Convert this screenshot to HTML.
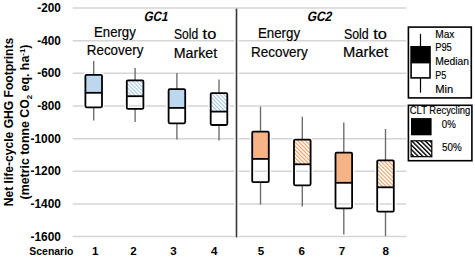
<!DOCTYPE html>
<html><head><meta charset="utf-8"><style>
html,body{margin:0;padding:0;background:#fff;width:475px;height:258px;overflow:hidden}
svg{display:block;font-family:"Liberation Sans", sans-serif}
</style></head><body>
<svg width="475" height="258" viewBox="0 0 475 258">
<defs>
<pattern id="hb" patternUnits="userSpaceOnUse" width="2.76" height="10" patternTransform="rotate(-45)"><rect width="2.76" height="10" fill="#fff"/><rect width="1.05" height="10" fill="#9CC3E8"/></pattern>
<pattern id="ho" patternUnits="userSpaceOnUse" width="2.76" height="10" patternTransform="rotate(-45)"><rect width="2.76" height="10" fill="#fff"/><rect width="1.1" height="10" fill="#F09C5E"/></pattern>
<pattern id="hk" patternUnits="userSpaceOnUse" width="3.18" height="10" patternTransform="rotate(-45)"><rect width="3.18" height="10" fill="#fff"/><rect width="1.4" height="10" fill="#000"/></pattern>
</defs>
<line x1="72.7" y1="8.00" x2="406.3" y2="8.00" stroke="#D5D5D5" stroke-width="1.5"/>
<line x1="72.7" y1="40.66" x2="406.3" y2="40.66" stroke="#D5D5D5" stroke-width="1.5"/>
<line x1="72.7" y1="73.32" x2="406.3" y2="73.32" stroke="#D5D5D5" stroke-width="1.5"/>
<line x1="72.7" y1="105.98" x2="406.3" y2="105.98" stroke="#D5D5D5" stroke-width="1.5"/>
<line x1="72.7" y1="138.64" x2="406.3" y2="138.64" stroke="#D5D5D5" stroke-width="1.5"/>
<line x1="72.7" y1="171.30" x2="406.3" y2="171.30" stroke="#D5D5D5" stroke-width="1.5"/>
<line x1="72.7" y1="203.96" x2="406.3" y2="203.96" stroke="#D5D5D5" stroke-width="1.5"/>
<line x1="72.7" y1="236.62" x2="406.3" y2="236.62" stroke="#D5D5D5" stroke-width="1.5"/>
<text x="60.9" y="11.90" font-size="12.2" font-weight="bold" font-style="normal" text-anchor="end" fill="#000" textLength="23.6" lengthAdjust="spacingAndGlyphs" >-200</text>
<text x="60.9" y="44.56" font-size="12.2" font-weight="bold" font-style="normal" text-anchor="end" fill="#000" textLength="23.6" lengthAdjust="spacingAndGlyphs" >-400</text>
<text x="60.9" y="77.22" font-size="12.2" font-weight="bold" font-style="normal" text-anchor="end" fill="#000" textLength="23.6" lengthAdjust="spacingAndGlyphs" >-600</text>
<text x="60.9" y="109.88" font-size="12.2" font-weight="bold" font-style="normal" text-anchor="end" fill="#000" textLength="23.6" lengthAdjust="spacingAndGlyphs" >-800</text>
<text x="60.9" y="142.54" font-size="12.2" font-weight="bold" font-style="normal" text-anchor="end" fill="#000" textLength="30.4" lengthAdjust="spacingAndGlyphs" >-1000</text>
<text x="60.9" y="175.20" font-size="12.2" font-weight="bold" font-style="normal" text-anchor="end" fill="#000" textLength="30.4" lengthAdjust="spacingAndGlyphs" >-1200</text>
<text x="60.9" y="207.86" font-size="12.2" font-weight="bold" font-style="normal" text-anchor="end" fill="#000" textLength="30.4" lengthAdjust="spacingAndGlyphs" >-1400</text>
<text x="60.9" y="240.52" font-size="12.2" font-weight="bold" font-style="normal" text-anchor="end" fill="#000" textLength="30.4" lengthAdjust="spacingAndGlyphs" >-1600</text>
<line x1="236.5" y1="9.3" x2="236.5" y2="236.6" stroke="#fff" stroke-width="4.5"/>
<line x1="236.5" y1="9.3" x2="236.5" y2="236.8" stroke="#383838" stroke-width="1.6" stroke-linecap="round"/>
<rect x="85.40" y="74.80" width="16.60" height="32.50" fill="none" stroke="#fff" stroke-width="4.4" rx="1.2"/>
<rect x="85.40" y="74.80" width="16.60" height="18.00" fill="#BDD7EE"/>
<line x1="93.7" y1="61" x2="93.7" y2="74.9" stroke="#6a6a6a" stroke-width="1.35"/>
<line x1="93.7" y1="107.2" x2="93.7" y2="120.6" stroke="#6a6a6a" stroke-width="1.35"/>
<rect x="85.40" y="74.80" width="16.60" height="32.50" fill="none" stroke="#000" stroke-width="1.8" rx="1.2"/>
<line x1="85.40" y1="92.8" x2="102.00" y2="92.8" stroke="#000" stroke-width="1.8"/>
<rect x="126.80" y="80.30" width="16.60" height="28.60" fill="none" stroke="#fff" stroke-width="4.4" rx="1.2"/>
<rect x="126.80" y="80.30" width="16.60" height="15.90" fill="url(#hb)"/>
<line x1="135.10000000000002" y1="68.1" x2="135.10000000000002" y2="80.4" stroke="#6a6a6a" stroke-width="1.35"/>
<line x1="135.10000000000002" y1="108.80000000000001" x2="135.10000000000002" y2="122" stroke="#6a6a6a" stroke-width="1.35"/>
<rect x="126.80" y="80.30" width="16.60" height="28.60" fill="none" stroke="#000" stroke-width="1.8" rx="1.2"/>
<line x1="126.80" y1="96.2" x2="143.40" y2="96.2" stroke="#000" stroke-width="1.8"/>
<rect x="168.60" y="89.20" width="16.60" height="34.10" fill="none" stroke="#fff" stroke-width="4.4" rx="1.2"/>
<rect x="168.60" y="89.20" width="16.60" height="18.70" fill="#BDD7EE"/>
<line x1="176.9" y1="73.1" x2="176.9" y2="89.3" stroke="#6a6a6a" stroke-width="1.35"/>
<line x1="176.9" y1="123.2" x2="176.9" y2="139.6" stroke="#6a6a6a" stroke-width="1.35"/>
<rect x="168.60" y="89.20" width="16.60" height="34.10" fill="none" stroke="#000" stroke-width="1.8" rx="1.2"/>
<line x1="168.60" y1="107.89999999999999" x2="185.20" y2="107.89999999999999" stroke="#000" stroke-width="1.8"/>
<rect x="210.70" y="93.20" width="16.60" height="31.80" fill="none" stroke="#fff" stroke-width="4.4" rx="1.2"/>
<rect x="210.70" y="93.20" width="16.60" height="18.40" fill="url(#hb)"/>
<line x1="219.0" y1="79.4" x2="219.0" y2="93.3" stroke="#6a6a6a" stroke-width="1.35"/>
<line x1="219.0" y1="124.9" x2="219.0" y2="140.4" stroke="#6a6a6a" stroke-width="1.35"/>
<rect x="210.70" y="93.20" width="16.60" height="31.80" fill="none" stroke="#000" stroke-width="1.8" rx="1.2"/>
<line x1="210.70" y1="111.6" x2="227.30" y2="111.6" stroke="#000" stroke-width="1.8"/>
<rect x="252.20" y="131.70" width="16.60" height="50.50" fill="none" stroke="#fff" stroke-width="4.4" rx="1.2"/>
<rect x="252.20" y="131.70" width="16.60" height="27.20" fill="#F5B386"/>
<line x1="260.5" y1="106.7" x2="260.5" y2="131.8" stroke="#6a6a6a" stroke-width="1.35"/>
<line x1="260.5" y1="182.1" x2="260.5" y2="204.5" stroke="#6a6a6a" stroke-width="1.35"/>
<rect x="252.20" y="131.70" width="16.60" height="50.50" fill="none" stroke="#000" stroke-width="1.8" rx="1.2"/>
<line x1="252.20" y1="158.9" x2="268.80" y2="158.9" stroke="#000" stroke-width="1.8"/>
<rect x="294.00" y="139.60" width="16.60" height="45.70" fill="none" stroke="#fff" stroke-width="4.4" rx="1.2"/>
<rect x="294.00" y="139.60" width="16.60" height="24.70" fill="url(#ho)"/>
<line x1="302.3" y1="116.8" x2="302.3" y2="139.7" stroke="#6a6a6a" stroke-width="1.35"/>
<line x1="302.3" y1="185.20000000000002" x2="302.3" y2="206.5" stroke="#6a6a6a" stroke-width="1.35"/>
<rect x="294.00" y="139.60" width="16.60" height="45.70" fill="none" stroke="#000" stroke-width="1.8" rx="1.2"/>
<line x1="294.00" y1="164.3" x2="310.60" y2="164.3" stroke="#000" stroke-width="1.8"/>
<rect x="335.50" y="152.60" width="16.60" height="55.70" fill="none" stroke="#fff" stroke-width="4.4" rx="1.2"/>
<rect x="335.50" y="152.60" width="16.60" height="30.20" fill="#F5B386"/>
<line x1="343.8" y1="122.6" x2="343.8" y2="152.7" stroke="#6a6a6a" stroke-width="1.35"/>
<line x1="343.8" y1="208.20000000000002" x2="343.8" y2="234.4" stroke="#6a6a6a" stroke-width="1.35"/>
<rect x="335.50" y="152.60" width="16.60" height="55.70" fill="none" stroke="#000" stroke-width="1.8" rx="1.2"/>
<line x1="335.50" y1="182.8" x2="352.10" y2="182.8" stroke="#000" stroke-width="1.8"/>
<rect x="377.20" y="160.30" width="16.60" height="51.30" fill="none" stroke="#fff" stroke-width="4.4" rx="1.2"/>
<rect x="377.20" y="160.30" width="16.60" height="27.00" fill="url(#ho)"/>
<line x1="385.5" y1="129" x2="385.5" y2="160.4" stroke="#6a6a6a" stroke-width="1.35"/>
<line x1="385.5" y1="211.5" x2="385.5" y2="236.1" stroke="#6a6a6a" stroke-width="1.35"/>
<rect x="377.20" y="160.30" width="16.60" height="51.30" fill="none" stroke="#000" stroke-width="1.8" rx="1.2"/>
<line x1="377.20" y1="187.3" x2="393.80" y2="187.3" stroke="#000" stroke-width="1.8"/>
<g transform="translate(142.9,21.2) skewX(-13)"><text x="0.5" y="0" font-size="13.6" font-weight="bold" font-style="normal" text-anchor="start" fill="#000" textLength="24.0" lengthAdjust="spacingAndGlyphs" >GC1</text></g>
<g transform="translate(306.2,21.2) skewX(-13)"><text x="0.5" y="0" font-size="13.6" font-weight="bold" font-style="normal" text-anchor="start" fill="#000" textLength="24.5" lengthAdjust="spacingAndGlyphs" >GC2</text></g>
<text x="94" y="36.7" font-size="13.8" font-weight="normal" font-style="normal" text-anchor="start" fill="#000" textLength="41.8" lengthAdjust="spacingAndGlyphs" stroke="#000" stroke-width="0.18">Energy</text>
<text x="86.8" y="55.2" font-size="13.8" font-weight="normal" font-style="normal" text-anchor="start" fill="#000" textLength="56.6" lengthAdjust="spacingAndGlyphs" stroke="#000" stroke-width="0.18">Recovery</text>
<text x="174.1" y="38.9" font-size="13.8" font-weight="normal" font-style="normal" text-anchor="start" fill="#000" textLength="24.1" lengthAdjust="spacingAndGlyphs" stroke="#000" stroke-width="0.18">Sold</text>
<text x="202.6" y="38.9" font-size="13.8" font-weight="normal" font-style="normal" text-anchor="start" fill="#000" textLength="13.7" lengthAdjust="spacingAndGlyphs" stroke="#000" stroke-width="0.18">to</text>
<text x="173.7" y="58.0" font-size="13.8" font-weight="normal" font-style="normal" text-anchor="start" fill="#000" textLength="43.5" lengthAdjust="spacingAndGlyphs" stroke="#000" stroke-width="0.18">Market</text>
<text x="257.9" y="37.5" font-size="13.8" font-weight="normal" font-style="normal" text-anchor="start" fill="#000" textLength="42.2" lengthAdjust="spacingAndGlyphs" stroke="#000" stroke-width="0.18">Energy</text>
<text x="251.0" y="56.6" font-size="13.8" font-weight="normal" font-style="normal" text-anchor="start" fill="#000" textLength="56.8" lengthAdjust="spacingAndGlyphs" stroke="#000" stroke-width="0.18">Recovery</text>
<text x="343.9" y="38.6" font-size="13.8" font-weight="normal" font-style="normal" text-anchor="start" fill="#000" textLength="24.8" lengthAdjust="spacingAndGlyphs" stroke="#000" stroke-width="0.18">Sold</text>
<text x="373.3" y="38.6" font-size="13.8" font-weight="normal" font-style="normal" text-anchor="start" fill="#000" textLength="13.7" lengthAdjust="spacingAndGlyphs" stroke="#000" stroke-width="0.18">to</text>
<text x="343.1" y="57.3" font-size="13.8" font-weight="normal" font-style="normal" text-anchor="start" fill="#000" textLength="45" lengthAdjust="spacingAndGlyphs" stroke="#000" stroke-width="0.18">Market</text>
<text x="29.3" y="254.9" font-size="11.6" font-weight="bold" font-style="normal" text-anchor="start" fill="#000" textLength="44.2" lengthAdjust="spacingAndGlyphs" >Scenario</text>
<text x="95.2" y="254.9" font-size="11.6" font-weight="bold" font-style="normal" text-anchor="middle" fill="#000" >1</text>
<text x="133.5" y="254.9" font-size="11.6" font-weight="bold" font-style="normal" text-anchor="middle" fill="#000" >2</text>
<text x="173.6" y="254.9" font-size="11.6" font-weight="bold" font-style="normal" text-anchor="middle" fill="#000" >3</text>
<text x="214.3" y="254.9" font-size="11.6" font-weight="bold" font-style="normal" text-anchor="middle" fill="#000" >4</text>
<text x="261" y="254.9" font-size="11.6" font-weight="bold" font-style="normal" text-anchor="middle" fill="#000" >5</text>
<text x="301.7" y="254.9" font-size="11.6" font-weight="bold" font-style="normal" text-anchor="middle" fill="#000" >6</text>
<text x="341.9" y="254.9" font-size="11.6" font-weight="bold" font-style="normal" text-anchor="middle" fill="#000" >7</text>
<text x="385.8" y="254.9" font-size="11.6" font-weight="bold" font-style="normal" text-anchor="middle" fill="#000" >8</text>
<g transform="translate(12.9,122) rotate(-90)"><text x="0" y="0" font-size="12.6" font-weight="bold" font-style="normal" text-anchor="middle" fill="#000" textLength="168.4" lengthAdjust="spacingAndGlyphs" >Net life-cycle GHG Footprints</text></g>
<g transform="translate(29.1,122) rotate(-90)"><text x="0" y="0" font-size="12.6" font-weight="bold" font-style="normal" text-anchor="middle" fill="#000" textLength="154.8" lengthAdjust="spacingAndGlyphs" >(metric tonne CO<tspan font-size="8" dy="2.8">2</tspan><tspan dy="-2.8"> eq. ha</tspan><tspan font-size="8" dy="-4">-1</tspan><tspan dy="4">)</tspan></text></g>
<rect x="408.4" y="27.1" width="62.9" height="70.8" fill="#fff" stroke="#000" stroke-width="1.6"/>
<line x1="420.5" y1="33.9" x2="420.5" y2="47" stroke="#000" stroke-width="1.2"/>
<rect x="410.3" y="46.0" width="20.5" height="16.6" fill="#000"/>
<rect x="411.1" y="62.6" width="18.9" height="15.3" fill="#fff" stroke="#000" stroke-width="1.6"/>
<line x1="420.5" y1="78" x2="420.5" y2="92.6" stroke="#000" stroke-width="1.2"/>
<text x="435.2" y="37.8" font-size="10.5" font-weight="normal" font-style="normal" text-anchor="start" fill="#000" textLength="19.2" lengthAdjust="spacingAndGlyphs" stroke="#000" stroke-width="0.15">Max</text>
<text x="435.2" y="51.3" font-size="10.5" font-weight="normal" font-style="normal" text-anchor="start" fill="#000" textLength="16.6" lengthAdjust="spacingAndGlyphs" stroke="#000" stroke-width="0.15">P95</text>
<text x="435.2" y="64.8" font-size="10.5" font-weight="normal" font-style="normal" text-anchor="start" fill="#000" textLength="33.8" lengthAdjust="spacingAndGlyphs" stroke="#000" stroke-width="0.15">Median</text>
<text x="435.2" y="78.8" font-size="10.5" font-weight="normal" font-style="normal" text-anchor="start" fill="#000" textLength="11" lengthAdjust="spacingAndGlyphs" stroke="#000" stroke-width="0.15">P5</text>
<text x="435.2" y="92.7" font-size="10.5" font-weight="normal" font-style="normal" text-anchor="start" fill="#000" textLength="18" lengthAdjust="spacingAndGlyphs" stroke="#000" stroke-width="0.15">Min</text>
<rect x="408.4" y="105.3" width="63.5" height="55.4" fill="#fff" stroke="#000" stroke-width="1.6"/>
<text x="409.8" y="113.9" font-size="10.2" font-weight="normal" font-style="normal" text-anchor="start" fill="#000" textLength="60.5" lengthAdjust="spacingAndGlyphs" stroke="#000" stroke-width="0.15">CLT Recycling</text>
<rect x="411" y="118.1" width="20.6" height="17.2" fill="#000"/>
<rect x="411.1" y="140.8" width="20.7" height="15.9" fill="url(#hk)" stroke="#000" stroke-width="1.2"/>
<text x="441.8" y="128.2" font-size="10.4" font-weight="normal" font-style="normal" text-anchor="start" fill="#000" textLength="14" lengthAdjust="spacingAndGlyphs" stroke="#000" stroke-width="0.15">0%</text>
<text x="442.0" y="150.5" font-size="10.4" font-weight="normal" font-style="normal" text-anchor="start" fill="#000" textLength="19.6" lengthAdjust="spacingAndGlyphs" stroke="#000" stroke-width="0.15">50%</text>
</svg>
</body></html>
